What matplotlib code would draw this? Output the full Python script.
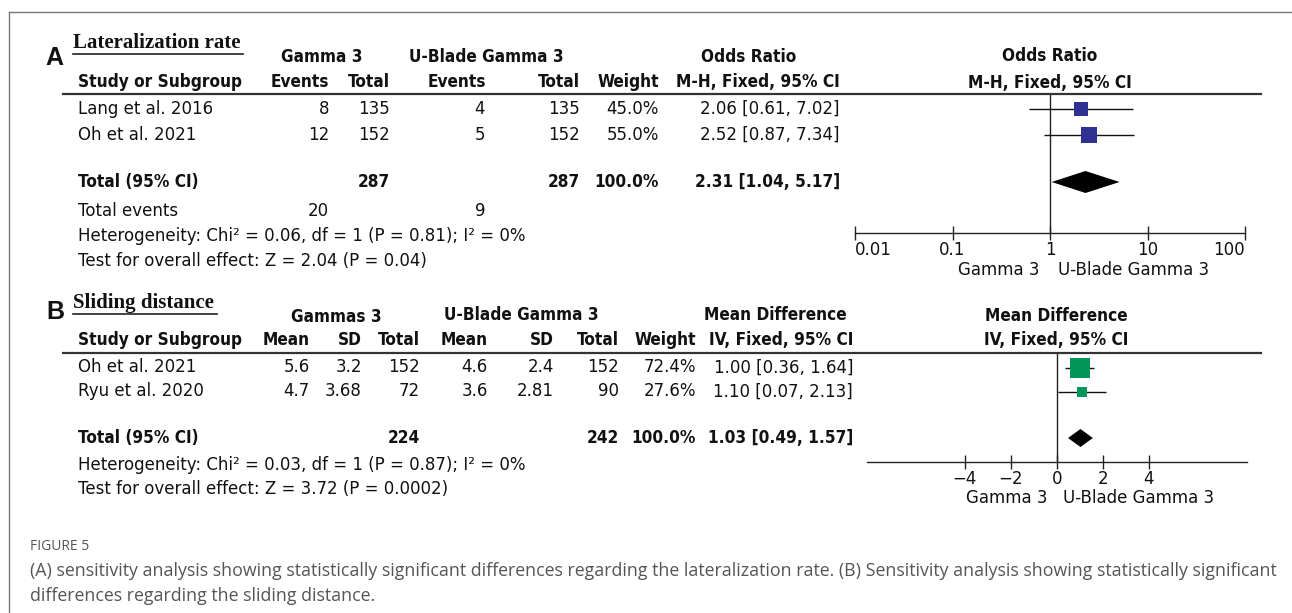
import matplotlib
matplotlib.use("Agg")
import matplotlib.pyplot as plt
from matplotlib.lines import Line2D
from matplotlib import font_manager

# ---------------- data ----------------
A_studies = ["Lang et al. 2016", "Oh et al. 2021"]
A_g3_events = [8, 12]
A_g3_total = [135, 152]
A_ub_events = [4, 5]
A_ub_total = [135, 152]
A_weight = [45.0, 55.0]
A_or = [2.06, 2.52]
A_lo = [0.61, 0.87]
A_hi = [7.02, 7.34]
A_pooled = [2.31, 1.04, 5.17]
A_tot_g3, A_tot_ub = 287, 287
A_events_g3, A_events_ub = 20, 9
A_het = "Heterogeneity: Chi² = 0.06, df = 1 (P = 0.81); I² = 0%"
A_test = "Test for overall effect: Z = 2.04 (P = 0.04)"
A_ticks = [0.01, 0.1, 1, 10, 100]
A_ticklabels = ["0.01", "0.1", "1", "10", "100"]

B_studies = ["Oh et al. 2021", "Ryu et al. 2020"]
B_g3_mean = [5.6, 4.7]
B_g3_sd = [3.2, 3.68]
B_g3_total = [152, 72]
B_ub_mean = [4.6, 3.6]
B_ub_sd = [2.4, 2.81]
B_ub_total = [152, 90]
B_weight = [72.4, 27.6]
B_md = [1.00, 1.10]
B_lo = [0.36, 0.07]
B_hi = [1.64, 2.13]
B_pooled = [1.03, 0.49, 1.57]
B_tot_g3, B_tot_ub = 224, 242
B_het = "Heterogeneity: Chi² = 0.03, df = 1 (P = 0.87); I² = 0%"
B_test = "Test for overall effect: Z = 3.72 (P = 0.0002)"
B_ticks = [-4, -2, 0, 2, 4]
B_ticklabels = ["−4", "−2", "0", "2", "4"]

caption_title = "FIGURE 5"
caption_lines = [
    "(A) sensitivity analysis showing statistically significant differences regarding the lateralization rate. (B) Sensitivity analysis showing statistically significant",
    "differences regarding the sliding distance.",
]

# ---------------- layout ----------------
W, H = 1292, 613
FS = 12
TXT = "#111111"
NAVY = "#2e3192"
GREEN = "#00965a"
plt.rcParams["font.family"] = ["DejaVu Sans"]

# bold header font: try condensed bold DejaVu, else shrink size
BOLD_KW = {"fontweight": "bold"}
try:
    fp = font_manager.FontProperties(family="DejaVu Sans", weight="bold", stretch="condensed")
    path = font_manager.findfont(fp, fallback_to_default=False)
    if "Condensed" in path:
        BOLD_KW = {"fontweight": "bold", "fontstretch": "condensed"}
        BOLD_FS = 12.3
    else:
        BOLD_FS = FS * 0.92
except Exception:
    BOLD_FS = FS * 0.92

fig = plt.figure(figsize=(W / 100, H / 100), dpi=100)
fig.patch.set_facecolor("white")


def fx(x):
    return x / W


def fy(y):
    return 1 - y / H


def t(x, y, s, ha="left", bold=False, **kw):
    kw.setdefault("color", TXT)
    if bold and "family" not in kw:
        kw.setdefault("fontsize", BOLD_FS)
        for k, v in BOLD_KW.items():
            kw.setdefault(k, v)
    elif bold:
        kw.setdefault("fontsize", FS)
        kw.setdefault("fontweight", "bold")
    else:
        kw.setdefault("fontsize", FS)
    fig.text(fx(x), fy(y), s, ha=ha, va="center", **kw)


def hline(x0, x1, y, lw=1.0, color="#333333"):
    fig.add_artist(Line2D([fx(x0), fx(x1)], [fy(y), fy(y)], lw=lw, color=color,
                          transform=fig.transFigure))


def vline(x, y0, y1, lw=1.0, color="#333333"):
    fig.add_artist(Line2D([fx(x), fx(x)], [fy(y0), fy(y1)], lw=lw, color=color,
                          transform=fig.transFigure))


# outer frame
hline(9, W, 11.5, lw=1.0, color="#777777")
vline(9, 11.5, H, lw=1.0, color="#777777")


def fmt_ci(v, lo, hi):
    return f"{v:.2f} [{lo:.2f}, {hi:.2f}]"


def forest_axes(x0, x1, y0, y1):
    ax = fig.add_axes([fx(x0), fy(y1), (x1 - x0) / W, (y1 - y0) / H])
    ax.set_ylim(y1, y0)
    ax.patch.set_alpha(0)
    for s in ["top", "left", "right"]:
        ax.spines[s].set_visible(False)
    ax.spines["bottom"].set_linewidth(1.0)
    ax.spines["bottom"].set_color("#222222")
    ax.set_yticks([])
    ax.tick_params(axis="x", direction="inout", length=10, width=1.0,
                   labelsize=FS, pad=1, colors="#222222", labelcolor=TXT)
    ax.minorticks_off()
    return ax


# ================= Panel A =================
t(54, 58, "A", ha="center", bold=True, fontsize=18, family="Liberation Sans")
t(73, 43, "Lateralization rate", bold=True, fontsize=15, family="Liberation Serif")
hline(73, 243, 53.5, lw=1.2, color="#222222")

t(322, 57, "Gamma 3", ha="center", bold=True)
t(486, 57, "U-Blade Gamma 3", ha="center", bold=True)
t(749, 57, "Odds Ratio", ha="center", bold=True)
t(1050, 56, "Odds Ratio", ha="center", bold=True)

yh2 = 82
t(78, yh2, "Study or Subgroup", bold=True)
t(329, yh2, "Events", ha="right", bold=True)
t(390, yh2, "Total", ha="right", bold=True)
t(486, yh2, "Events", ha="right", bold=True)
t(580, yh2, "Total", ha="right", bold=True)
t(659, yh2, "Weight", ha="right", bold=True)
t(840, yh2, "M-H, Fixed, 95% CI", ha="right", bold=True)
t(1050, 83, "M-H, Fixed, 95% CI", ha="center", bold=True)

hline(63, 1261, 93.5, lw=1.6)

A_rows = [109, 134.5]
A_total_y = 182
for i, yy in enumerate(A_rows):
    t(78, yy, A_studies[i])
    t(329, yy, str(A_g3_events[i]), ha="right")
    t(390, yy, str(A_g3_total[i]), ha="right")
    t(485, yy, str(A_ub_events[i]), ha="right")
    t(580, yy, str(A_ub_total[i]), ha="right")
    t(659, yy, f"{A_weight[i]:.1f}%", ha="right")
    t(840, yy, fmt_ci(A_or[i], A_lo[i], A_hi[i]), ha="right")

t(78, A_total_y, "Total (95% CI)", bold=True)
t(390, A_total_y, str(A_tot_g3), ha="right", bold=True)
t(580, A_total_y, str(A_tot_ub), ha="right", bold=True)
t(659, A_total_y, f"{sum(A_weight):.1f}%", ha="right", bold=True)
t(840, A_total_y, fmt_ci(*A_pooled), ha="right", bold=True)
t(78, 211, "Total events")
t(329, 211, str(A_events_g3), ha="right")
t(485, 211, str(A_events_ub), ha="right")
t(78, 236, A_het)
t(78, 261, A_test)

axA = forest_axes(855, 1245, 93.5, 233)
axA.set_xscale("log")
axA.set_xlim(A_ticks[0], A_ticks[-1])
axA.set_xticks(A_ticks)
axA.set_xticklabels(A_ticklabels)
axA.minorticks_off()
labs = axA.get_xticklabels()
labs[0].set_ha("left")
labs[-1].set_ha("right")
axA.axvline(1, color="#222222", lw=1.0)
wmaxA = max(A_weight)
for i, yy in enumerate(A_rows):
    axA.hlines(yy, A_lo[i], A_hi[i], color="#111111", lw=1.0)
    side_px = 15.5 * (A_weight[i] / wmaxA) ** 0.5
    axA.plot(A_or[i], yy, marker="s", ms=side_px * 0.72, color=NAVY, mec=NAVY, mew=0)
dh = 11
axA.fill([A_pooled[1], A_pooled[0], A_pooled[2], A_pooled[0]],
         [A_total_y, A_total_y - dh, A_total_y, A_total_y + dh], color="black", lw=0)
t(1040, 270, "Gamma 3", ha="right")
t(1058, 270, "U-Blade Gamma 3", ha="left")

# ================= Panel B =================
t(55, 312, "B", ha="center", bold=True, fontsize=18, family="Liberation Sans")
t(73, 303, "Sliding distance", bold=True, fontsize=15, family="Liberation Serif")
hline(73, 217, 313.5, lw=1.2, color="#222222")

t(336, 317, "Gammas 3", ha="center", bold=True)
t(521, 315, "U-Blade Gamma 3", ha="center", bold=True)
t(775, 315, "Mean Difference", ha="center", bold=True)
t(1056, 316, "Mean Difference", ha="center", bold=True)

yh2 = 340
t(78, yh2, "Study or Subgroup", bold=True)
t(310, yh2, "Mean", ha="right", bold=True)
t(362, yh2, "SD", ha="right", bold=True)
t(420, yh2, "Total", ha="right", bold=True)
t(488, yh2, "Mean", ha="right", bold=True)
t(554, yh2, "SD", ha="right", bold=True)
t(619, yh2, "Total", ha="right", bold=True)
t(696, yh2, "Weight", ha="right", bold=True)
t(853, yh2, "IV, Fixed, 95% CI", ha="right", bold=True)
t(1056, 340, "IV, Fixed, 95% CI", ha="center", bold=True)

hline(63, 1261, 353, lw=1.6)

B_rows = [367.5, 391.5]
B_total_y = 438
for i, yy in enumerate(B_rows):
    t(78, yy, B_studies[i])
    t(310, yy, f"{B_g3_mean[i]:g}", ha="right")
    t(362, yy, f"{B_g3_sd[i]:g}", ha="right")
    t(420, yy, str(B_g3_total[i]), ha="right")
    t(488, yy, f"{B_ub_mean[i]:g}", ha="right")
    t(554, yy, f"{B_ub_sd[i]:g}", ha="right")
    t(619, yy, str(B_ub_total[i]), ha="right")
    t(696, yy, f"{B_weight[i]:.1f}%", ha="right")
    t(853, yy, fmt_ci(B_md[i], B_lo[i], B_hi[i]), ha="right")

t(78, B_total_y, "Total (95% CI)", bold=True)
t(420, B_total_y, str(B_tot_g3), ha="right", bold=True)
t(619, B_total_y, str(B_tot_ub), ha="right", bold=True)
t(696, B_total_y, f"{sum(B_weight):.1f}%", ha="right", bold=True)
t(853, B_total_y, fmt_ci(*B_pooled), ha="right", bold=True)
t(78, 465, B_het)
t(78, 489, B_test)

axB = forest_axes(867, 1246.5, 353, 462)
axB.set_xlim(-8.25, 8.25)
axB.set_xticks(B_ticks)
axB.set_xticklabels(B_ticklabels)
axB.axvline(0, color="#222222", lw=1.0)
wmaxB = max(B_weight)
for i, yy in enumerate(B_rows):
    axB.hlines(yy, B_lo[i], B_hi[i], color="#111111", lw=1.0)
    side_px = 20 * (B_weight[i] / wmaxB) ** 0.77
    axB.plot(B_md[i], yy, marker="s", ms=side_px * 0.72, color=GREEN, mec=GREEN, mew=0)
dh = 9
axB.fill([B_pooled[1], B_pooled[0], B_pooled[2], B_pooled[0]],
         [B_total_y, B_total_y - dh, B_total_y, B_total_y + dh], color="black", lw=0)
t(1047, 498, "Gamma 3", ha="right")
t(1063, 498, "U-Blade Gamma 3", ha="left")

# ================= caption =================
t(30, 547, caption_title, fontsize=10, color="#555555", family="Open Sans")
cap = fig.text(fx(30), fy(571), caption_lines[0], ha="left", va="center",
               fontsize=12, color="#555555", family="Open Sans")
fig.canvas.draw()
r = fig.canvas.get_renderer()
wpx = cap.get_window_extent(r).width
capfs = 12 * (1243 / wpx)
cap.set_fontsize(capfs)
t(30, 596, caption_lines[1], fontsize=capfs, color="#555555", family="Open Sans")

fig.savefig("out.png", dpi=100, facecolor="white")
